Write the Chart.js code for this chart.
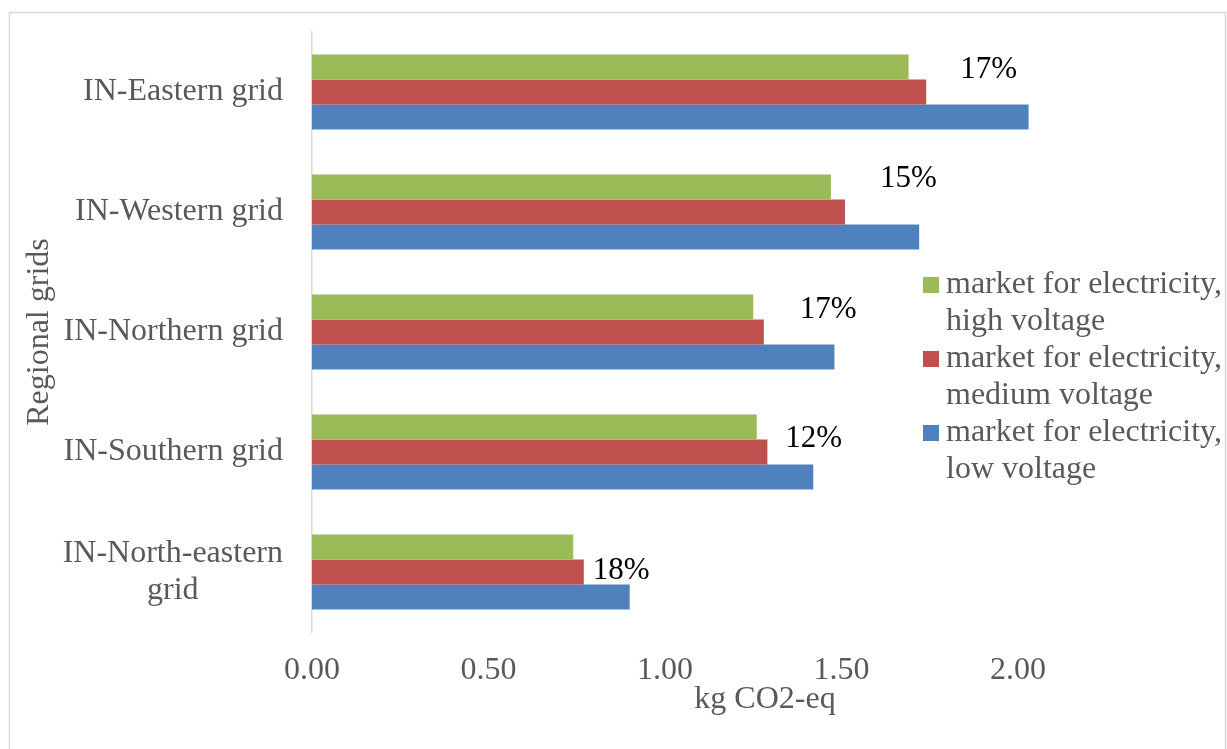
<!DOCTYPE html>
<html>
<head>
<meta charset="utf-8">
<script src="https://cdn.jsdelivr.net/npm/chart.js@4/dist/chart.umd.min.js"></script>
<style>
  html, body { margin: 0; padding: 0; background: #ffffff; }
  #wrap { width: 1227px; height: 749px; position: relative; }
</style>
</head>
<body>
<div id="wrap"><canvas id="c" width="1227" height="749"></canvas></div>
<script>
// Regional grids (top to bottom), each label split into its display lines
const gridLabels = [
  ['IN-Eastern grid'],
  ['IN-Western grid'],
  ['IN-Northern grid'],
  ['IN-Southern grid'],
  ['IN-North-eastern', 'grid']
];

// kg CO2-eq per kWh for each market
const highVoltage   = [1.69, 1.47, 1.25, 1.26, 0.74];
const mediumVoltage = [1.74, 1.51, 1.28, 1.29, 0.77];
const lowVoltage    = [2.03, 1.72, 1.48, 1.42, 0.90];

// Series names, with their legend line breaks
const seriesNames = [
  ['market for electricity,', 'high voltage'],
  ['market for electricity,', 'medium voltage'],
  ['market for electricity,', 'low voltage']
];

// Percentage notes written beside each group
const pctNotes = ['17%', '15%', '17%', '12%', '18%'];

// x axis ticks and title
const xTicks = [0, 0.5, 1, 1.5, 2];
const xTitle = 'kg CO2-eq';
const yTitle = 'Regional grids';

const FONT = '"Liberation Serif", "Times New Roman", serif';
const GREY = '#595959';

// Chart frame
const framePlugin = {
  id: 'frame',
  beforeDraw(chart) {
    const ctx = chart.ctx;
    ctx.save();
    ctx.fillStyle = '#ffffff';
    ctx.fillRect(0, 0, chart.width, chart.height);
    ctx.strokeStyle = '#d9d9d9';
    ctx.lineWidth = 1.5;
    ctx.strokeRect(9.5, 12.5, 1216, 800);
    ctx.restore();
  }
};

// Category labels: right-aligned blocks, lines centred inside each block
const categoryLabelPlugin = {
  id: 'categoryLabels',
  afterDraw(chart, args, opts) {
    const ctx = chart.ctx;
    const y = chart.scales.y;
    const right = chart.chartArea.left - opts.gap;
    ctx.save();
    ctx.font = opts.size + 'px ' + FONT;
    ctx.fillStyle = GREY;
    ctx.textAlign = 'center';
    ctx.textBaseline = 'middle';
    gridLabels.forEach((lines, i) => {
      const w = Math.max(...lines.map(l => ctx.measureText(l).width));
      const cx = right - w / 2;
      const cy = y.getPixelForValue(i);
      const top = cy - (lines.length - 1) * opts.lineHeight / 2;
      lines.forEach((l, k) => ctx.fillText(l, cx, top + k * opts.lineHeight));
    });
    ctx.restore();
  }
};

// x axis title, centred under the full plot frame (which runs under the legend)
const xTitlePlugin = {
  id: 'xTitle',
  afterDraw(chart, args, opts) {
    const ctx = chart.ctx;
    ctx.save();
    ctx.font = opts.size + 'px ' + FONT;
    ctx.fillStyle = GREY;
    ctx.textAlign = 'center';
    ctx.textBaseline = 'middle';
    ctx.fillText(xTitle, opts.x, opts.y);
    ctx.restore();
  }
};

// Percentage notes near the top of each group
const notePlugin = {
  id: 'pctNotes',
  afterDatasetsDraw(chart, args, opts) {
    const ctx = chart.ctx;
    const x = chart.scales.x, y = chart.scales.y;
    ctx.save();
    ctx.font = opts.size + 'px ' + FONT;
    ctx.fillStyle = '#000000';
    ctx.textAlign = 'left';
    ctx.textBaseline = 'middle';
    pctNotes.forEach((t, i) => {
      const px = x.getPixelForValue(mediumVoltage[i]) + opts.dx[i];
      const py = y.getPixelForValue(i) + opts.dy[i];
      ctx.fillText(t, px, py);
    });
    ctx.restore();
  }
};

// Legend with two-line entries
const legendPlugin = {
  id: 'sideLegend',
  afterDraw(chart, args, opts) {
    const ctx = chart.ctx;
    ctx.save();
    ctx.font = opts.size + 'px ' + FONT;
    ctx.textAlign = 'left';
    ctx.textBaseline = 'middle';
    chart.data.datasets.forEach((ds, i) => {
      const y0 = opts.y + i * opts.itemGap;
      ctx.fillStyle = ds.backgroundColor;
      ctx.fillRect(opts.x, y0 - opts.box / 2, opts.box, opts.box);
      ctx.fillStyle = GREY;
      seriesNames[i].forEach((l, k) => {
        ctx.fillText(l, opts.x + opts.box + opts.textGap, y0 + k * opts.lineHeight);
      });
    });
    ctx.restore();
  }
};

new Chart(document.getElementById('c'), {
  type: 'bar',
  data: {
    labels: gridLabels,
    datasets: [
      { label: seriesNames[0].join(' '), data: highVoltage,   backgroundColor: '#9BBB59' },
      { label: seriesNames[1].join(' '), data: mediumVoltage, backgroundColor: '#C0504D' },
      { label: seriesNames[2].join(' '), data: lowVoltage,    backgroundColor: '#4F81BD' }
    ]
  },
  options: {
    indexAxis: 'y',
    responsive: false,
    animation: false,
    events: [],
    layout: { padding: { left: 10, top: 32, right: 209, bottom: 0 } },
    datasets: {
      bar: { categoryPercentage: 0.625, barPercentage: 1.0, borderWidth: 0, clip: false }
    },
    scales: {
      x: {
        min: 0,
        max: 2,
        afterBuildTicks: s => { s.ticks = xTicks.map(v => ({ value: v })); },
        afterFit: s => { s.height = 117; },
        grid: { display: false, drawTicks: false },
        border: { display: false },
        ticks: {
          padding: 19,
          color: GREY,
          font: { family: FONT, size: 32 },
          callback: v => Number(v).toFixed(2)
        },
        title: { display: false }
      },
      y: {
        afterFit: s => { s.width = 302; },
        grid: { display: false, drawTicks: false },
        border: { display: true, color: '#d9d9d9', width: 1.5 },
        ticks: { display: false },
        title: {
          display: true,
          text: yTitle,
          color: GREY,
          font: { family: FONT, size: 32 },
          padding: { top: 10, bottom: 0 }
        }
      }
    },
    plugins: {
      legend: { display: false },
      tooltip: { enabled: false },
      categoryLabels: { gap: 29, size: 32, lineHeight: 37 },
      xTitle: { x: 765, y: 700, size: 32 },
      pctNotes: { size: 31, dx: [34, 35, 36, 18, 9], dy: [-22, -33.5, -22, -13, -1.5] },
      sideLegend: { x: 923, y: 285, box: 16, textGap: 7, size: 32, lineHeight: 37, itemGap: 74 }
    }
  },
  plugins: [framePlugin, categoryLabelPlugin, xTitlePlugin, notePlugin, legendPlugin]
});
</script>
</body>
</html>
